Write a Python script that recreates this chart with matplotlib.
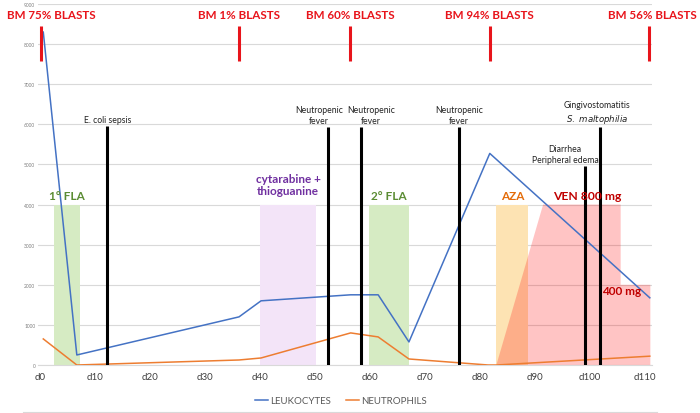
import matplotlib
matplotlib.use("Agg")
import matplotlib.pyplot as plt
from matplotlib.lines import Line2D

plt.rcParams['font.family'] = ['Lato', 'DejaVu Sans']

# blood counts (day, cells/uL)
leuko_days = [0.6, 6.7, 36.2, 40.2, 56.5, 61.5, 67.1, 81.8, 110.9]
leuko_vals = [8300, 250, 1200, 1600, 1750, 1750, 575, 5275, 1675]
neutro_days = [0.6, 6.7, 36.2, 40.2, 56.5, 61.5, 67.1, 81.5, 83.0, 110.9]
neutro_vals = [650, 0, 125, 175, 800, 700, 150, 0, 0, 220]

# bone marrow results
bm_days = [0.2, 36.2, 56.4, 81.8, 110.7]
bm_label_days = [2.0, 36.2, 56.4, 81.8, 111.4]
bm_labels = ["BM 75% BLASTS", "BM 1% BLASTS", "BM 60% BLASTS", "BM 94% BLASTS", "BM 56% BLASTS"]

# clinical events
event_days = [12.2, 52.4, 58.3, 76.2, 99.1, 101.8]
event_tops = [5950, 5925, 5925, 5925, 4950, 5925]
event_label_days = [12.4, 50.7, 60.2, 76.2, 95.5, 101.3]
event_labels = ["E. coli sepsis", "Neutropenic\nfever", "Neutropenic\nfever",
                "Neutropenic\nfever", "Diarrhea\nPeripheral edema",
                "Gingivostomatitis\n$\\it{S.\\ maltophilia}$"]

# treatments (start, end, label)
tx_start = [2.5, 40.0, 59.9, 83.0]
tx_end = [7.3, 50.2, 67.1, 88.8]
tx_labels = ["1° FLA", "cytarabine +\nthioguanine", "2° FLA", "AZA"]
tx_fill = ["#d6ebc3", "#f3e4f8", "#d6ebc3", "#fde3b3"]
tx_text = ["#5b8c33", "#7030a0", "#5b8c33", "#e46c0a"]
tx_height = 4000

# venetoclax dose ramp (day, level)
ven_days = [83.0, 91.5, 105.6, 105.6, 111.0, 111.0]
ven_level = [0, 4000, 4000, 2000, 2000, 0]

fig = plt.figure(figsize=(7, 4.14), dpi=100)
ax = fig.add_axes([38 / 700, 48 / 414, 614 / 700, 361 / 414])
ax.set_xlim(-0.36, 111.3)
ax.set_ylim(0, 9000)

for s, e, c in zip(tx_start, tx_end, tx_fill):
    ax.fill_between([s, e], 0, tx_height, color=c, lw=0, zorder=1)
ax.fill(ven_days, ven_level, color="#ff0000", alpha=0.23, lw=0, zorder=1.5)

ax.plot(leuko_days, leuko_vals, color="#4472c4", lw=1.1, zorder=3, label="LEUKOCYTES")
ax.plot(neutro_days, neutro_vals, color="#ed7d31", lw=1.1, zorder=3, label="NEUTROPHILS")

for d, t in zip(event_days, event_tops):
    ax.plot([d, d], [0, t], color="black", lw=2.2, zorder=4, solid_capstyle="butt")
for d, t, lab in zip(event_label_days, event_tops, event_labels):
    ax.text(d, t + 70, lab, ha="center", va="bottom", fontsize=6.2,
            color="#222222", linespacing=1.25, zorder=5)

for d in bm_days:
    ax.plot([d, d], [7575, 8450], color="#e8141b", lw=2.2, zorder=4,
            solid_capstyle="butt", clip_on=False)
for d, lab in zip(bm_label_days, bm_labels):
    ax.text(d, 8728, lab, ha="center", va="center", fontsize=8.4,
            fontweight="bold", color="#e8141b", clip_on=False)

for s, e, lab, c in zip(tx_start, tx_end, tx_labels, tx_text):
    y = 4500 if "\n" in lab else 4230
    ax.text((s + e) / 2, y, lab, ha="center", va="center", fontsize=8.5,
            fontweight="bold", color=c, linespacing=1.15, zorder=5)
ax.text(99.5, 4230, "VEN 800 mg", ha="center", va="center", fontsize=8.7,
        fontweight="bold", color="#c00000", zorder=5)
ax.text(105.7, 1845, "400 mg", ha="center", va="center", fontsize=8.5,
        fontweight="bold", color="#c00000", zorder=5)

ax.set_yticks(range(0, 9001, 1000))
ax.yaxis.grid(True, color="#d9d9d9", lw=0.8)
ax.set_axisbelow(True)
ax.tick_params(axis="y", length=0, labelsize=3.5, labelcolor="#7f7f7f", pad=2)
ax.set_xticks(range(0, 111, 10))
ax.set_xticklabels([f"d{d}" for d in range(0, 111, 10)])
ax.tick_params(axis="x", length=0, labelsize=7, labelcolor="#404040", pad=5)
for side in ["top", "right", "left"]:
    ax.spines[side].set_visible(False)
ax.spines["bottom"].set_color("#d9d9d9")

fig.legend(loc="center", bbox_to_anchor=(341 / 700, 1 - 402 / 414), ncol=2,
           frameon=False, fontsize=7, handlelength=1.3, handletextpad=0.2,
           columnspacing=1.6, labelcolor="#595959")
fig.add_artist(Line2D([23 / 700, 657 / 700], [1.5 / 414, 1.5 / 414],
                      color="#d9d9d9", lw=0.8))

fig.savefig("out.png", dpi=100)
